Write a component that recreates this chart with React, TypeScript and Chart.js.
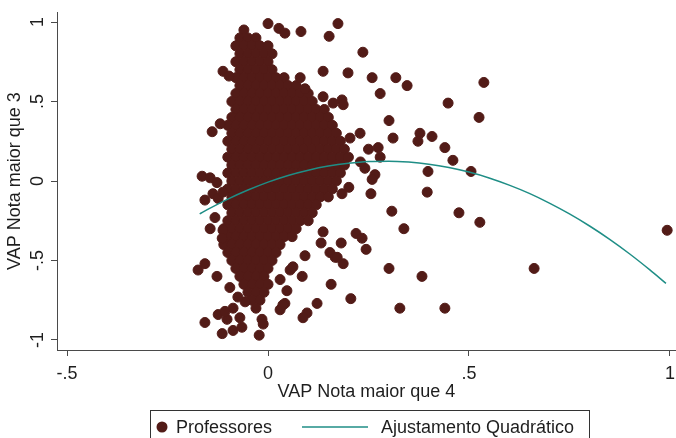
import React, { useEffect, useRef } from "react";
import { Chart, registerables } from "chart.js";

Chart.register(...registerables);

const FONT = "'Liberation Sans', Arial, sans-serif";
const TEXT = "#1e1e1e";
const AXIS = "#4a4a4a";
const POINT = "#521b17";
const FIT = "#1f8e86";

const xTitle = "VAP Nota maior que 4";
const yTitle = "VAP Nota maior que 3";
const scatterLabel = "Professores";
const fitLabel = "Ajustamento Quadrático";

const xTickValues = [-0.5, 0, 0.5, 1];
const xTickLabels = ["-.5", "0", ".5", "1"];
const yTickValues = [-1, -0.5, 0, 0.5, 1];
const yTickLabels = ["-1", "-.5", "0", ".5", "1"];

// dense cluster, row by row: [y, x values]
const blobRows: [number, number[]][] = [
  [0.95, [-0.06]],
  [0.9, [-0.07, -0.05, -0.03]],
  [0.85, [-0.08, -0.06, -0.04, -0.02, 0.0]],
  [0.8, [-0.07, -0.05, -0.03, -0.01, 0.01]],
  [0.75, [-0.08, -0.06, -0.04, -0.02, 0.0]],
  [0.7, [-0.07, -0.05, -0.03, -0.01, 0.01]],
  [0.65, [-0.08, -0.06, -0.04, -0.02, 0.0, 0.02, 0.04]],
  [0.6, [-0.07, -0.05, -0.03, -0.01, 0.01, 0.03, 0.05, 0.07]],
  [0.55, [-0.08, -0.06, -0.04, -0.02, 0.0, 0.02, 0.04, 0.06, 0.08, 0.1]],
  [0.5, [-0.09, -0.07, -0.05, -0.03, -0.01, 0.01, 0.03, 0.05, 0.07, 0.09, 0.11]],
  [0.45, [-0.08, -0.06, -0.04, -0.02, 0.0, 0.02, 0.04, 0.06, 0.08, 0.1, 0.12, 0.14]],
  [0.4, [-0.09, -0.07, -0.05, -0.03, -0.01, 0.01, 0.03, 0.05, 0.07, 0.09, 0.11, 0.13, 0.15]],
  [0.35, [-0.1, -0.08, -0.06, -0.04, -0.02, 0.0, 0.02, 0.04, 0.06, 0.08, 0.1, 0.12, 0.14, 0.16]],
  [0.3, [-0.09, -0.07, -0.05, -0.03, -0.01, 0.01, 0.03, 0.05, 0.07, 0.09, 0.11, 0.13, 0.15, 0.17]],
  [0.25, [-0.1, -0.08, -0.06, -0.04, -0.02, 0.0, 0.02, 0.04, 0.06, 0.08, 0.1, 0.12, 0.14, 0.16, 0.18]],
  [0.2, [-0.09, -0.07, -0.05, -0.03, -0.01, 0.01, 0.03, 0.05, 0.07, 0.09, 0.11, 0.13, 0.15, 0.17, 0.19]],
  [0.15, [-0.1, -0.08, -0.06, -0.04, -0.02, 0.0, 0.02, 0.04, 0.06, 0.08, 0.1, 0.12, 0.14, 0.16, 0.18, 0.2]],
  [0.1, [-0.09, -0.07, -0.05, -0.03, -0.01, 0.01, 0.03, 0.05, 0.07, 0.09, 0.11, 0.13, 0.15, 0.17, 0.19]],
  [0.05, [-0.1, -0.08, -0.06, -0.04, -0.02, 0.0, 0.02, 0.04, 0.06, 0.08, 0.1, 0.12, 0.14, 0.16, 0.18]],
  [0.0, [-0.09, -0.07, -0.05, -0.03, -0.01, 0.01, 0.03, 0.05, 0.07, 0.09, 0.11, 0.13, 0.15, 0.17]],
  [-0.05, [-0.1, -0.08, -0.06, -0.04, -0.02, 0.0, 0.02, 0.04, 0.06, 0.08, 0.1, 0.12, 0.14, 0.16]],
  [-0.1, [-0.09, -0.07, -0.05, -0.03, -0.01, 0.01, 0.03, 0.05, 0.07, 0.09, 0.11, 0.13, 0.15]],
  [-0.15, [-0.1, -0.08, -0.06, -0.04, -0.02, 0.0, 0.02, 0.04, 0.06, 0.08, 0.1, 0.12]],
  [-0.2, [-0.09, -0.07, -0.05, -0.03, -0.01, 0.01, 0.03, 0.05, 0.07, 0.09, 0.11]],
  [-0.25, [-0.1, -0.08, -0.06, -0.04, -0.02, 0.0, 0.02, 0.04, 0.06, 0.08, 0.1]],
  [-0.3, [-0.11, -0.09, -0.07, -0.05, -0.03, -0.01, 0.01, 0.03, 0.05, 0.07]],
  [-0.35, [-0.1, -0.08, -0.06, -0.04, -0.02, 0.0, 0.02, 0.04, 0.06]],
  [-0.4, [-0.11, -0.09, -0.07, -0.05, -0.03, -0.01, 0.01, 0.03]],
  [-0.45, [-0.1, -0.08, -0.06, -0.04, -0.02, 0.0, 0.02]],
  [-0.5, [-0.09, -0.07, -0.05, -0.03, -0.01, 0.01]],
  [-0.55, [-0.08, -0.06, -0.04, -0.02, 0.0]],
  [-0.6, [-0.07, -0.05, -0.03, -0.01]],
  [-0.65, [-0.06, -0.04, -0.02, 0.0]],
  [-0.7, [-0.05, -0.03, -0.01]],
  [-0.75, [-0.04, -0.02]],
  [-0.8, [-0.03]],
];

// scattered points: [x, y]
const outliers: [number, number][] = [
  [0.0, 0.99], [0.027, 0.96], [0.042, 0.93], [0.082, 0.94], [0.152, 0.91], [0.174, 0.99],
  [0.236, 0.81], [0.137, 0.69], [0.199, 0.68], [0.259, 0.65], [0.318, 0.65], [0.346, 0.6],
  [0.279, 0.55], [0.537, 0.62], [0.448, 0.49], [0.525, 0.4], [0.301, 0.38], [0.311, 0.27],
  [0.378, 0.3], [0.373, 0.25], [0.408, 0.28], [0.44, 0.21], [0.46, 0.13], [0.505, 0.06],
  [0.398, 0.06], [0.396, -0.07], [0.256, -0.08], [0.201, -0.04], [0.184, -0.08], [0.308, -0.19],
  [0.475, -0.2], [0.527, -0.26], [0.338, -0.3], [0.219, -0.33], [0.234, -0.36], [0.182, -0.39],
  [0.244, -0.43], [0.662, -0.55], [0.301, -0.55], [0.383, -0.6], [0.157, -0.65], [0.206, -0.74],
  [0.122, -0.77], [0.328, -0.8], [0.44, -0.8], [0.097, -0.83], [0.087, -0.86], [0.993, -0.31],
  [0.154, -0.45], [0.167, -0.48], [0.187, -0.52], [0.092, -0.47], [0.085, -0.6], [0.137, -0.32],
  [0.132, -0.39], [0.08, 0.65], [0.092, 0.58], [0.137, 0.53], [0.162, 0.49], [0.184, 0.51],
  [0.187, 0.48], [0.229, 0.3], [0.274, 0.21], [0.279, 0.15], [0.241, 0.08], [0.266, 0.04],
  [0.259, 0.01], [0.204, 0.27], [0.25, 0.2], [0.23, 0.12], [-0.112, 0.69], [-0.097, 0.66],
  [-0.119, 0.36], [-0.139, 0.31], [-0.164, 0.03], [-0.144, 0.02], [-0.127, -0.01], [-0.157, -0.12],
  [-0.137, -0.08], [-0.124, -0.11], [-0.112, -0.07], [-0.132, -0.23], [-0.144, -0.3], [-0.112, -0.31],
  [-0.114, -0.36], [-0.174, -0.56], [-0.157, -0.52], [-0.127, -0.6], [-0.095, -0.67], [-0.157, -0.89],
  [-0.114, -0.96], [-0.022, -0.97], [-0.015, -0.87], [-0.012, -0.9], [0.03, -0.81], [0.042, -0.77],
  [0.037, -0.78], [-0.124, -0.84], [-0.102, -0.87], [-0.087, -0.8], [-0.07, -0.86], [-0.065, -0.92],
  [-0.087, -0.94], [-0.107, -0.82], [-0.057, -0.76], [-0.075, -0.73], [0.055, -0.56], [0.062, -0.54],
  [0.03, -0.62], [0.047, -0.69], [0.172, -0.48],
];

// quadratic fit curve
const fitX = [-0.17, -0.15, -0.1, -0.05, 0, 0.05, 0.1, 0.15, 0.2, 0.25, 0.3, 0.35, 0.4, 0.45, 0.5, 0.55, 0.6, 0.65, 0.7, 0.75, 0.8, 0.85, 0.9, 0.95, 0.99];
const fitY = [-0.207, -0.179, -0.114, -0.057, -0.007, 0.035, 0.068, 0.094, 0.112, 0.123, 0.125, 0.119, 0.106, 0.085, 0.056, 0.019, -0.026, -0.078, -0.139, -0.207, -0.283, -0.367, -0.459, -0.559, -0.644];

const overlayPlugin = {
  id: "overlay",
  afterDraw(chart: any) {
    const ctx = chart.ctx;
    const ys = chart.scales.y;
    ctx.save();
    ctx.font = `18px ${FONT}`;
    ctx.fillStyle = TEXT;
    ctx.textAlign = "center";
    ctx.textBaseline = "middle";
    yTickValues.forEach((v, i) => {
      const py = ys.getPixelForValue(v);
      ctx.save();
      ctx.translate(38, py);
      ctx.rotate(-Math.PI / 2);
      ctx.fillText(yTickLabels[i], 0, 0);
      ctx.restore();
    });

    // legend
    const ds = chart.data.datasets;
    const top = 410;
    const cy = 427;
    ctx.strokeStyle = "#333";
    ctx.lineWidth = 1;
    ctx.strokeRect(150.5, top + 0.5, 439, 40);
    ctx.fillStyle = ds[1].backgroundColor;
    ctx.beginPath();
    ctx.arc(162, cy, 5.5, 0, Math.PI * 2);
    ctx.fill();
    ctx.fillStyle = TEXT;
    ctx.textAlign = "left";
    ctx.fillText(ds[1].label, 176, cy + 1);
    ctx.strokeStyle = ds[0].borderColor;
    ctx.lineWidth = 1.5;
    ctx.beginPath();
    ctx.moveTo(302, cy);
    ctx.lineTo(368, cy);
    ctx.stroke();
    ctx.fillText(ds[0].label, 381, cy + 1);
    ctx.restore();
  },
};

export default function App() {
  const ref = useRef<HTMLCanvasElement>(null);
  useEffect(() => {
    if (!ref.current) return;
    const pts: { x: number; y: number }[] = [];
    blobRows.forEach(([y, xs]) => xs.forEach((x) => pts.push({ x, y })));
    outliers.forEach(([x, y]) => pts.push({ x, y }));
    const fit = fitX.map((x, i) => ({ x, y: fitY[i] }));
    const tickFont = { family: FONT, size: 18 };
    const chart = new Chart(ref.current, {
      type: "scatter",
      data: {
        datasets: [
          {
            type: "line",
            label: fitLabel,
            data: fit,
            borderColor: FIT,
            backgroundColor: FIT,
            borderWidth: 1.5,
            pointRadius: 0,
            showLine: true,
            fill: false,
            tension: 0.4,
            cubicInterpolationMode: "monotone",
            order: -1,
          } as any,
          {
            label: scatterLabel,
            data: pts,
            backgroundColor: POINT,
            borderColor: POINT,
            borderWidth: 1,
            pointRadius: 5,
            pointHoverRadius: 5,
          },
        ],
      },
      options: {
        animation: false,
        responsive: false,
        maintainAspectRatio: false,
        events: [],
        layout: { autoPadding: false, padding: { left: 0, right: 0, top: 12, bottom: 35 } },
        plugins: { legend: { display: false }, tooltip: { enabled: false } },
        scales: {
          x: {
            type: "linear",
            min: -0.525,
            max: 1.015,
            afterBuildTicks: (s: any) => {
              s.ticks = xTickValues.map((v) => ({ value: v }));
            },
            afterFit: (s: any) => {
              s.height = 53;
              s.paddingLeft = 0;
              s.paddingRight = 0;
            },
            ticks: {
              font: tickFont,
              color: TEXT,
              padding: 7,
              maxRotation: 0,
              callback: (_v: any, i: number) => xTickLabels[i],
            },
            grid: { display: true, drawOnChartArea: false, drawTicks: true, tickLength: 6, color: AXIS },
            border: { display: true, color: AXIS, width: 1 },
            title: { display: true, text: xTitle, font: tickFont, color: TEXT, padding: 0 },
          },
          y: {
            type: "linear",
            min: -1.063,
            max: 1.063,
            afterBuildTicks: (s: any) => {
              s.ticks = yTickValues.map((v) => ({ value: v }));
            },
            afterFit: (s: any) => {
              s.width = 57;
              s.paddingTop = 0;
              s.paddingBottom = 0;
            },
            ticks: { display: false },
            grid: { display: true, drawOnChartArea: false, drawTicks: true, tickLength: 6, color: AXIS },
            border: { display: true, color: AXIS, width: 1 },
            title: { display: true, text: yTitle, font: tickFont, color: TEXT, padding: { top: 4, bottom: 0 } },
          },
        },
      },
      plugins: [overlayPlugin],
    });
    return () => chart.destroy();
  }, []);
  return (
    <div style={{ position: "fixed", left: 0, top: 0, width: 676, height: 438, background: "#fff" }}>
      <canvas ref={ref} width={676} height={438} style={{ display: "block" }} />
    </div>
  );
}
